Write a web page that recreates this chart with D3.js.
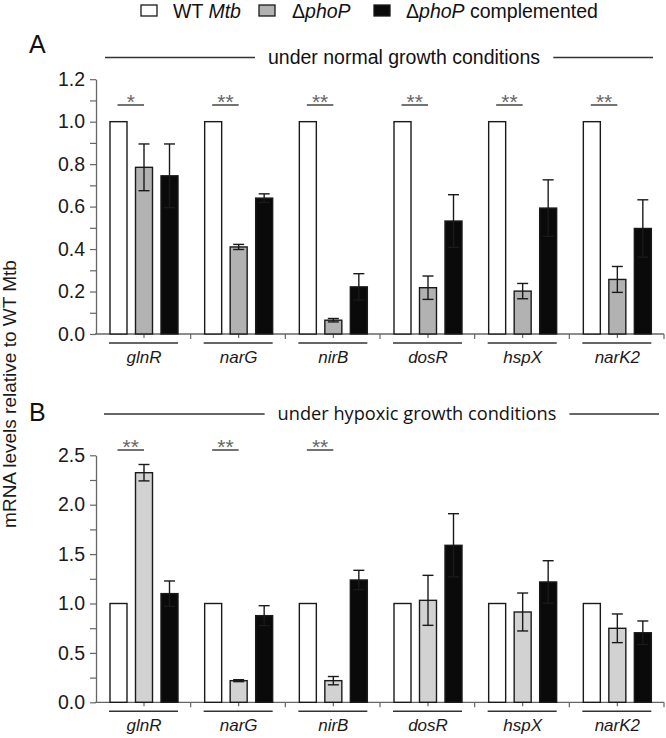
<!DOCTYPE html>
<html><head><meta charset="utf-8">
<script src="https://cdn.jsdelivr.net/npm/d3@7"></script>
<style>body{margin:0;background:#fff}svg{display:block}</style>
</head><body>
<script>
// ---- data ----
const genes = ["glnR","narG","nirB","dosR","hspX","narK2"];
const series = ["WT","phoP","comp"];
// panel A: normal growth
const aWT   = [1,1,1,1,1,1];
const aPhoP = [0.785,0.41,0.065,0.218,0.202,0.257];
const aPhoPErr = [0.11,0.012,0.008,0.055,0.036,0.061];
const aComp = [0.745,0.64,0.222,0.532,0.593,0.497];
const aCompErr = [0.15,0.02,0.062,0.124,0.133,0.135];
const aSig = ["*","**","**","**","**","**"];
// panel B: hypoxic growth
const bWT   = [1,1,1,1,1,1];
const bPhoP = [2.324,0.219,0.219,1.032,0.914,0.749];
const bPhoPErr = [0.083,0.01,0.042,0.253,0.192,0.145];
const bComp = [1.10,0.877,1.238,1.589,1.218,0.704];
const bCompErr = [0.128,0.101,0.098,0.32,0.215,0.119];
const bSig = ["**","**","**","","",""];
const aTicks = [0,0.2,0.4,0.6,0.8,1.0,1.2];
const bTicks = [0,0.5,1.0,1.5,2.0,2.5];

const W=666,H=738;
const svg=d3.select("body").append("svg").attr("width",W).attr("height",H);
const FONT="'Liberation Sans', Arial, sans-serif";
const colA={WT:"#ffffff",phoP:"#b2b2b2",comp:"#0a0a0a"};
const colB={WT:"#ffffff",phoP:"#d2d2d2",comp:"#0a0a0a"};

const x=d3.scaleBand().domain(genes).range([96,664]).paddingInner(0).paddingOuter(0);
const xs=d3.scaleBand().domain(series).range([14,82]).paddingInner(1/3).paddingOuter(0);

function panel(opt){
  const g=svg.append("g");
  const y=d3.scaleLinear().domain([0,opt.max]).range([opt.y0,opt.yTop]);
  // y axis
  const ax=d3.axisLeft(y).tickValues(opt.ticks).tickFormat(d3.format(".1f")).tickSize(6).tickSizeOuter(0);
  const ga=g.append("g").attr("transform","translate(96,0)").call(ax);
  ga.selectAll("text").attr("font-family",FONT).attr("font-size",19.5).attr("fill","#1a1a1a").attr("dx",-2);
  ga.select(".domain").attr("stroke","#666").attr("stroke-width",1.3);
  ga.selectAll(".tick line").attr("stroke","#666").attr("stroke-width",1.2);
  const minor=d3.axisLeft(y).tickValues(opt.minor).tickFormat("").tickSize(6).tickSizeOuter(0);
  const gm=g.append("g").attr("transform","translate(96,0)").call(minor);
  gm.select(".domain").remove();
  gm.selectAll(".tick line").attr("stroke","#666").attr("stroke-width",1.2);
  // x axis
  g.append("line").attr("x1",95).attr("x2",664).attr("y1",opt.y0).attr("y2",opt.y0).attr("stroke","#666").attr("stroke-width",1.3);
  genes.forEach((gn,i)=>{
    const bx=x(gn)+x.bandwidth();
    g.append("line").attr("x1",bx).attr("x2",bx).attr("y1",opt.y0).attr("y2",opt.y0+5).attr("stroke","#666").attr("stroke-width",1.2);
    const cx=x(gn)+xs("phoP")+xs.bandwidth()/2;
    g.append("line").attr("x1",cx).attr("x2",cx).attr("y1",opt.y0).attr("y2",opt.y0+4).attr("stroke","#666").attr("stroke-width",1.2);
    // underline
    g.append("line").attr("x1",x(gn)+13).attr("x2",x(gn)+82).attr("y1",opt.y0+9).attr("y2",opt.y0+9).attr("stroke","#333").attr("stroke-width",1.5);
    g.append("text").attr("x",x(gn)+48).attr("y",opt.y0+29).attr("text-anchor","middle")
      .attr("font-family",FONT).attr("font-style","italic").attr("font-size",17).attr("fill","#1a1a1a").text(gn);
  });
  // bars
  const data=[];
  genes.forEach((gn,i)=>{
    data.push({g:gn,s:"WT",v:opt.wt[i],e:0});
    data.push({g:gn,s:"phoP",v:opt.phoP[i],e:opt.phoPErr[i]});
    data.push({g:gn,s:"comp",v:opt.comp[i],e:opt.compErr[i]});
  });
  g.selectAll("rect.bar").data(data).join("rect").attr("class","bar")
    .attr("x",d=>x(d.g)+xs(d.s)).attr("width",xs.bandwidth())
    .attr("y",d=>y(d.v)).attr("height",d=>y(0)-y(d.v))
    .attr("fill",d=>opt.col[d.s]).attr("stroke","#1a1a1a").attr("stroke-width",1.4);
  data.filter(d=>d.e>0).forEach(d=>{
    const cx=x(d.g)+xs(d.s)+xs.bandwidth()/2;
    g.append("line").attr("x1",cx).attr("x2",cx).attr("y1",y(d.v+d.e)).attr("y2",y(d.v-d.e)).attr("stroke","#1a1a1a").attr("stroke-width",1.4);
    [d.v+d.e,d.v-d.e].forEach(v=>{
      g.append("line").attr("x1",cx-5.5).attr("x2",cx+5.5).attr("y1",y(v)).attr("y2",y(v)).attr("stroke","#1a1a1a").attr("stroke-width",1.4);
    });
  });
  // significance
  genes.forEach((gn,i)=>{
    if(!opt.sig[i]) return;
    const x1=x(gn)+xs("WT")+xs.bandwidth()/2-1, x2=x(gn)+xs("phoP")+xs.bandwidth()/2;
    g.append("line").attr("x1",x1).attr("x2",x2).attr("y1",opt.sigY).attr("y2",opt.sigY).attr("stroke","#444").attr("stroke-width",1.5);
    g.append("text").attr("x",(x1+x2)/2).attr("y",opt.sigY+4).attr("text-anchor","middle")
      .attr("font-family",FONT).attr("font-size",21).attr("fill","#666").text(opt.sig[i]);
  });
  // header
  g.append("text").attr("x",29).attr("y",opt.letterY).attr("font-family",FONT).attr("font-size",25).attr("fill","#111").text(opt.letter);
  const ht=g.append("text").attr("x",opt.hx).attr("y",opt.hy).attr("text-anchor","middle")
    .attr("font-family",opt.hfont).attr("font-size",opt.hsize).attr("fill","#111").text(opt.title);
  const bb=ht.node().getBBox();
  g.append("line").attr("x1",opt.l1).attr("x2",bb.x-13).attr("y1",opt.lineY).attr("y2",opt.lineY).attr("stroke","#333").attr("stroke-width",1.5);
  g.append("line").attr("x1",bb.x+bb.width+13).attr("x2",opt.l2).attr("y1",opt.lineY).attr("y2",opt.lineY).attr("stroke","#333").attr("stroke-width",1.5);
}

panel({max:1.2,y0:334,yTop:79.2,ticks:aTicks,minor:d3.range(1,12,2).map(v=>v/10),
  wt:aWT,phoP:aPhoP,phoPErr:aPhoPErr,comp:aComp,compErr:aCompErr,sig:aSig,sigY:105,col:colA,
  letter:"A",letterY:53,title:"under normal growth conditions",hx:404,hy:64,hfont:FONT,hsize:19.5,lineY:57.5,l1:105,l2:653});
panel({max:2.5,y0:702.3,yTop:455.3,ticks:bTicks,minor:[0.25,0.75,1.25,1.75,2.25],
  wt:bWT,phoP:bPhoP,phoPErr:bPhoPErr,comp:bComp,compErr:bCompErr,sig:bSig,sigY:450,col:colB,
  letter:"B",letterY:421,title:"under hypoxic growth conditions",hx:417,hy:420,hfont:"'Open Sans', sans-serif",hsize:18.2,lineY:414,l1:104,l2:659});

// y label
svg.append("text").attr("transform","translate(16,394) rotate(-90)").attr("text-anchor","middle")
  .attr("font-family",FONT).attr("font-size",19).attr("fill","#1a1a1a").text("mRNA levels relative to WT Mtb");

// legend
const lg=svg.append("g");
const legItems=[{s:"WT",x:141,tx:173,parts:[["WT ",false],["Mtb",true]]},
  {s:"phoP",x:259,tx:292,parts:[["Δ",false],["phoP",true]]},
  {s:"comp",x:374,tx:406,parts:[["Δ",false],["phoP",true],[" complemented",false]]}];
legItems.forEach(it=>{
  lg.append("rect").attr("x",it.x).attr("y",5).attr("width",16).attr("height",11)
    .attr("fill",colA[it.s]).attr("stroke","#1a1a1a").attr("stroke-width",1.3);
  const t=lg.append("text").attr("x",it.tx).attr("y",18).attr("font-family",FONT).attr("font-size",19.5).attr("fill","#111");
  it.parts.forEach(p=>t.append("tspan").attr("font-style",p[1]?"italic":"normal").text(p[0]));
});
</script>
</body></html>
